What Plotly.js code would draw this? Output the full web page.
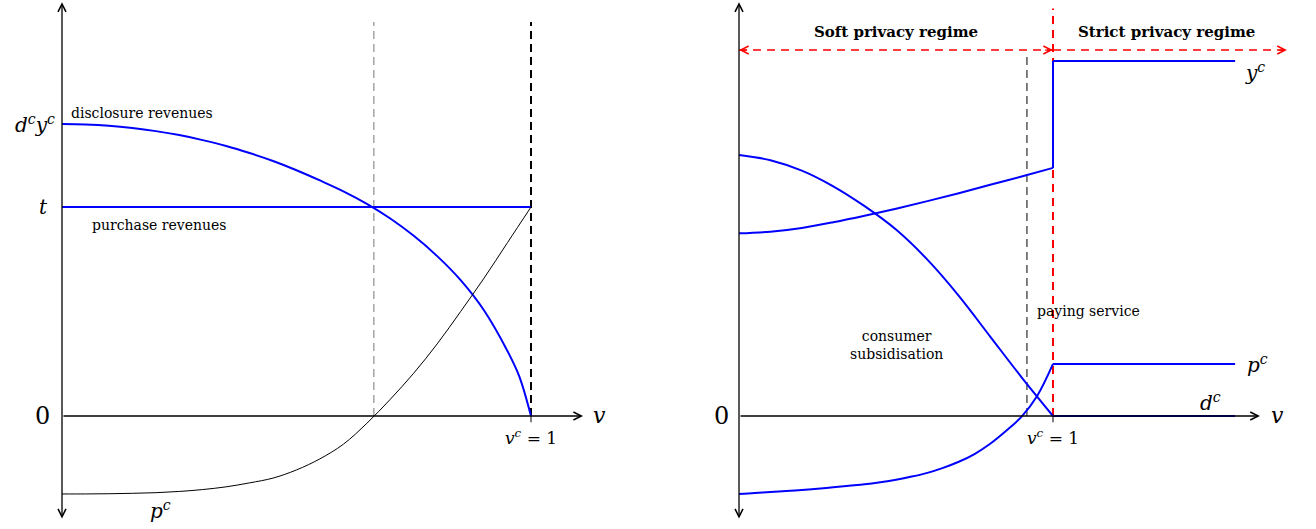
<!DOCTYPE html>
<html>
<head>
<meta charset="utf-8">
<script src="https://cdn.plot.ly/plotly-3.0.1.min.js"></script>
<style>
  html, body { margin: 0; padding: 0; background: #fff; }
  #chart { width: 1316px; height: 529px; }
</style>
</head>
<body>
<div id="chart"></div>
<script>
// ---- left panel: revenues as v goes to v^c = 1 ----
const discV = [0, 0.05, 0.1, 0.15, 0.2, 0.25, 0.3, 0.35, 0.4, 0.45, 0.5, 0.55, 0.6, 0.65, 0.7, 0.75, 0.8, 0.85, 0.9, 0.95, 0.975, 1];
const discRev = [1.397, 1.395, 1.389, 1.378, 1.363, 1.344, 1.320, 1.292, 1.258, 1.220, 1.176, 1.127, 1.075, 1.015, 0.945, 0.862, 0.765, 0.65, 0.505, 0.31, 0.19, 0];
const purchV = [0, 1];
const purchRev = [1, 1];
const priceLV = [0, 0.05, 0.1, 0.15, 0.2, 0.25, 0.3, 0.35, 0.4, 0.45, 0.5, 0.55, 0.6, 0.65, 0.7, 0.75, 0.8, 0.85, 0.9, 0.95, 1];
const priceL = [-0.373, -0.373, -0.372, -0.37, -0.367, -0.361, -0.352, -0.339, -0.32, -0.297, -0.258, -0.205, -0.135, -0.035, 0.08, 0.205, 0.345, 0.5, 0.66, 0.83, 1];

// ---- right panel: soft vs strict privacy regime ----
const softV = [0, 0.1, 0.2, 0.3, 0.4, 0.5, 0.6, 0.7, 0.8, 0.9, 1];
const ycSoft = [0.874, 0.882, 0.9, 0.927, 0.958, 0.992, 1.028, 1.066, 1.106, 1.146, 1.187];
const dcSoft = [1.249, 1.224, 1.174, 1.099, 1.004, 0.892, 0.748, 0.575, 0.38, 0.185, 0];
const pcV = [0, 0.05, 0.1, 0.15, 0.2, 0.25, 0.3, 0.35, 0.4, 0.45, 0.5, 0.55, 0.6, 0.65, 0.7, 0.75, 0.8, 0.85, 0.9, 0.95, 1];
const pcSoft = [-0.373, -0.368, -0.364, -0.359, -0.354, -0.348, -0.341, -0.334, -0.327, -0.317, -0.305, -0.29, -0.272, -0.248, -0.219, -0.182, -0.133, -0.072, -0.003, 0.097, 0.249];
const strictV = [1, 1.58];
const ycStrict = [1.699, 1.699];
const pcStrict = [0.249, 0.249];
const dcStrict = [0, 0];
const jumpV = [1, 1];
const jumpY = [1.187, 1.699];

const blue = '#0000ff';
const serif = 'DejaVu Serif, Liberation Serif, serif';

function line(x, y, xa, color, width, dash, smooth) {
  return {
    x: x, y: y, xaxis: xa, yaxis: xa === 'x' ? 'y' : 'y2',
    type: 'scatter', mode: 'lines', hoverinfo: 'skip',
    line: { color: color, width: width, dash: dash || 'solid', shape: smooth ? 'spline' : 'linear', smoothing: 1 }
  };
}

const traces = [
  // left
  line([0.665, 0.665], [0, 1.885], 'x', '#777', 1, '8px,5px'),
  line([1, 1], [0, 1.885], 'x', '#000', 2, '8px,5px'),
  line(purchV, purchRev, 'x', blue, 2),
  line(discV, discRev, 'x', blue, 2, null, true),
  line(priceLV, priceL, 'x', '#000', 1, null, true),
  line([1, 1], [0, -0.03], 'x', '#000', 1),
  // right
  line([0.917, 0.917], [0, 1.72], 'x2', '#000', 1, '8px,5px'),
  line([1, 1], [0, 1.95], 'x2', '#ff0000', 2, '8px,6px'),
  line([0, 1], [1.751, 1.751], 'x2', '#ff0000', 1.5, '8px,6px'),
  line([1, 1.745], [1.751, 1.751], 'x2', '#ff0000', 1.5, '8px,6px'),
  line(softV, ycSoft, 'x2', blue, 2, null, true),
  line(jumpV, jumpY, 'x2', blue, 2),
  line(strictV, ycStrict, 'x2', blue, 2),
  line(softV, dcSoft, 'x2', blue, 2, null, true),
  line(strictV, dcStrict, 'x2', blue, 2),
  line(pcV, pcSoft, 'x2', blue, 2, null, true),
  line(strictV, pcStrict, 'x2', blue, 2),
  line([1, 1], [0, -0.03], 'x2', '#000', 1)
];

function arrow(xr, x, y, ax, ay, color, width, side) {
  return {
    xref: xr, yref: xr === 'x' ? 'y' : 'y2', axref: xr, ayref: xr === 'x' ? 'y' : 'y2',
    x: x, y: y, ax: ax, ay: ay, text: '', showarrow: true,
    arrowhead: 5, startarrowhead: 5, arrowsize: 1.2, startarrowsize: 1.2,
    arrowwidth: width, arrowcolor: color, arrowside: side || 'end'
  };
}

function label(xr, x, y, text, size, xanchor) {
  return {
    xref: xr, yref: xr === 'x' ? 'y' : 'y2', x: x, y: y, text: text, showarrow: false,
    xanchor: xanchor || 'center', yanchor: 'middle',
    font: { family: serif, size: size, color: '#000' }
  };
}

const mi = s => '<i>' + s + '</i>';
const sup = s => '<sup>' + mi(s) + '</sup>';

const annotations = [
  // axes
  arrow('x', 1.111, 0, 0, 0, '#000', 1.3),
  arrow('x', 0, 1.98, 0, -0.498, '#000', 1.3, 'end+start'),
  arrow('x2', 1.659, 0, 0, 0, '#000', 1.3),
  arrow('x2', 0, 1.98, 0, -0.498, '#000', 1.3, 'end+start'),
  // regime arrow heads
  arrow('x2', 0, 1.751, 0.03, 1.751, '#ff0000', 1.3),
  arrow('x2', 1, 1.751, 0.97, 1.751, '#ff0000', 1.3),
  arrow('x2', 1.745, 1.751, 1.715, 1.751, '#ff0000', 1.3),
  // left labels
  label('x', -0.011, 1.397, mi('d') + sup('c') + mi('y') + sup('c'), 20, 'right'),
  label('x', -0.026, 1.0, mi('t'), 20, 'right'),
  label('x', -0.021, 0, '0', 24, 'right'),
  label('x', 0.015, 1.45, 'disclosure revenues', 14, 'left'),
  label('x', 0.06, 0.914, 'purchase revenues', 14, 'left'),
  label('x', 0.209, -0.45, mi('p') + sup('c'), 20),
  label('x', 1.147, 0, mi('v'), 22),
  label('x', 1.0, -0.1, mi('v') + sup('c') + ' = 1', 17),
  // right labels
  label('x2', -0.025, 0, '0', 24, 'right'),
  label('x2', 0.5, 1.837, '<b>Soft privacy regime</b>', 15),
  label('x2', 1.36, 1.837, '<b>Strict privacy regime</b>', 15),
  label('x2', 1.643, 1.646, mi('y') + sup('c'), 20),
  label('x2', 1.65, 0.249, mi('p') + sup('c'), 20),
  label('x2', 1.5, 0.067, mi('d') + sup('c'), 20),
  label('x2', 1.716, 0, mi('v'), 22),
  label('x2', 1.0, -0.1, mi('v') + sup('c') + ' = 1', 17),
  label('x2', 0.943, 0.502, 'paying service', 14, 'left'),
  label('x2', 0.5, 0.34, 'consumer<br>subsidisation', 14)
];

const hidden = { visible: false, fixedrange: true };
const layout = {
  width: 1316, height: 529,
  margin: { l: 0, r: 0, t: 0, b: 0 },
  paper_bgcolor: '#fff', plot_bgcolor: '#fff',
  showlegend: false,
  xaxis: Object.assign({ domain: [0, 0.5], range: [-0.1322, 1.2708] }, hidden),
  yaxis: Object.assign({ domain: [0, 1], range: [-0.5407, 1.9904], anchor: 'x' }, hidden),
  xaxis2: Object.assign({ domain: [0.5, 1], range: [-0.258, 1.8376], anchor: 'y2' }, hidden),
  yaxis2: Object.assign({ domain: [0, 1], range: [-0.5407, 1.9904], anchor: 'x2' }, hidden),
  annotations: annotations
};

Plotly.newPlot('chart', traces, layout, { displayModeBar: false, staticPlot: true });
</script>
</body>
</html>
